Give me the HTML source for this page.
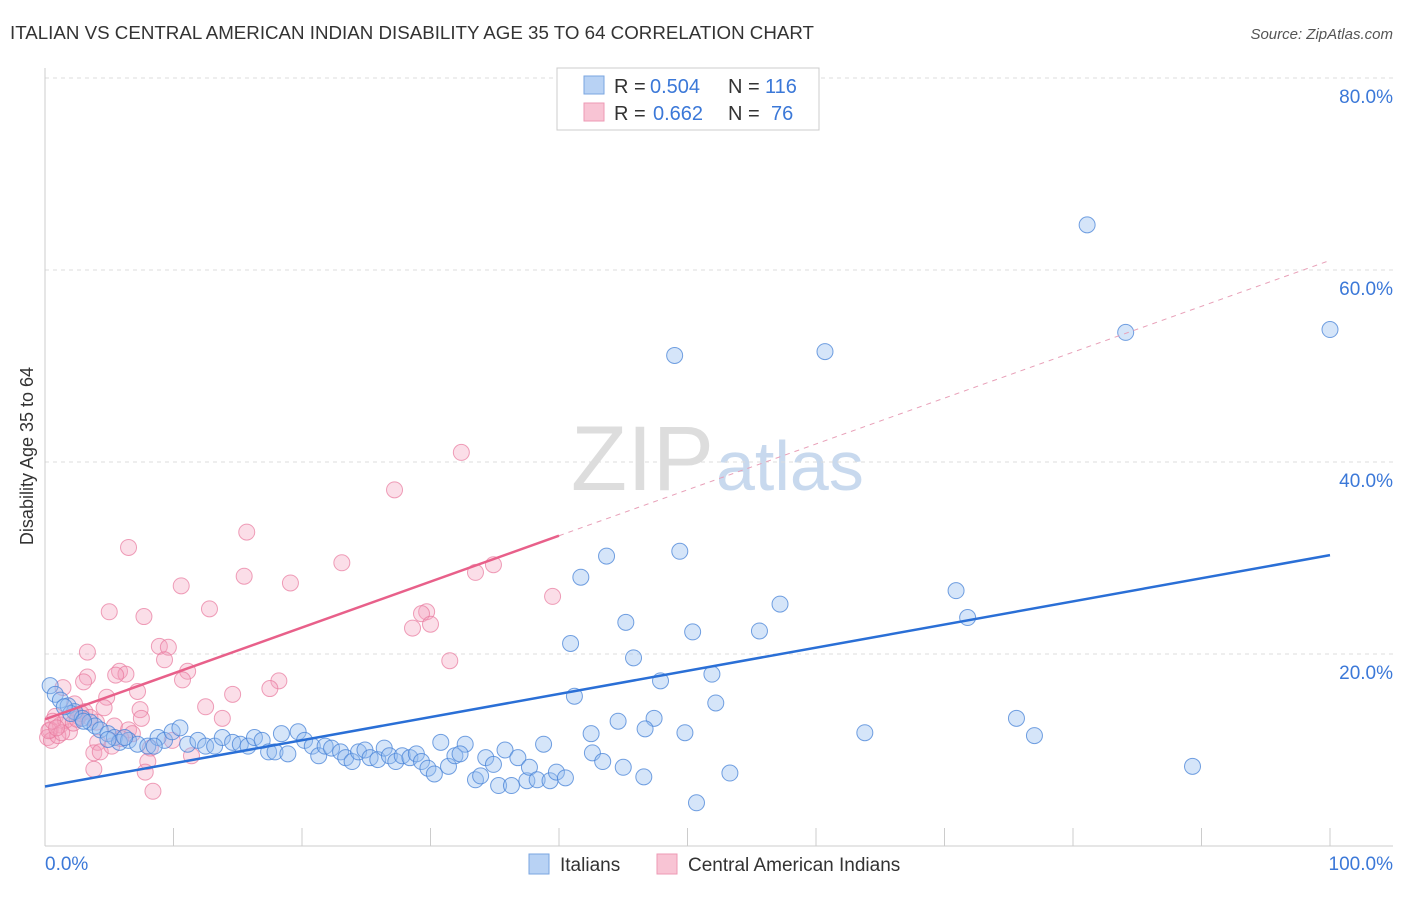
<!DOCTYPE html>
<html><head><meta charset="utf-8"><style>
body{margin:0;background:#fff;font-family:"Liberation Sans",sans-serif;}
svg text{font-family:"Liberation Sans",sans-serif;}
</style></head><body>
<svg id="c" width="1406" height="892" xmlns="http://www.w3.org/2000/svg">
<text x="10" y="39" font-size="18" fill="#333" textLength="804" lengthAdjust="spacingAndGlyphs">ITALIAN VS CENTRAL AMERICAN INDIAN DISABILITY AGE 35 TO 64 CORRELATION CHART</text>
<text x="1393" y="39" font-size="15" fill="#555" text-anchor="end" font-style="italic">Source: ZipAtlas.com</text>
<text x="714" y="490" font-size="92" fill="#ddd" text-anchor="end" font-family="Liberation Serif">ZIP</text>
<text x="716" y="490" font-size="70" fill="#c8d9ee">atlas</text>
<text x="33" y="456" font-size="18" fill="#333" text-anchor="middle" transform="rotate(-90 33 456)">Disability Age 35 to 64</text>
<g id="grid"></g><g id="pts"></g><g id="lines"></g>
<g>
<rect x="557" y="68" width="262" height="62" fill="#fff" stroke="#ccc"/>
<rect x="584" y="76" width="20" height="18" fill="#b8d2f4" stroke="#7aa6e0"/>
<rect x="584" y="103" width="20" height="18" fill="#f8c4d4" stroke="#ee9ab4"/>
<text x="614" y="93" font-size="20" fill="#333">R =</text>
<text x="650" y="93" font-size="20" fill="#3b78d8">0.504</text>
<text x="728" y="93" font-size="20" fill="#333">N =</text>
<text x="765" y="93" font-size="20" fill="#3b78d8">116</text>
<text x="614" y="120" font-size="20" fill="#333">R =</text>
<text x="653" y="120" font-size="20" fill="#3b78d8">0.662</text>
<text x="728" y="120" font-size="20" fill="#333">N =</text>
<text x="771" y="120" font-size="20" fill="#3b78d8">76</text>
</g>
<g>
<rect x="529" y="854" width="20" height="20" fill="#b8d2f4" stroke="#7aa6e0"/>
<text x="560" y="871" font-size="19" fill="#333">Italians</text>
<rect x="657" y="854" width="20" height="20" fill="#f8c4d4" stroke="#ee9ab4"/>
<text x="688" y="871" font-size="19" fill="#333">Central American Indians</text>
</g>
</svg>
<script>
const yTicks=[20,40,60,80];
const xLabels=["0.0%","100.0%"];
const blueX=[81.1,84.1,100,49.0,60.7,43.7,49.4,41.7,70.9,57.2,71.8,45.2,50.4,55.6,40.9,45.8,51.9,47.9,41.2,52.2,75.6,47.4,44.6,46.7,49.8,63.8,77.0,42.5,38.8,30.8,32.7,42.6,43.4,45.0,46.6,53.3,89.3,50.7,0.4,0.8,1.2,1.8,2.3,2.9,3.5,3.9,4.3,4.9,5.4,5.8,6.5,7.2,8.0,8.8,9.3,9.9,10.5,11.1,11.9,12.5,13.2,13.8,14.6,15.2,15.8,16.3,16.9,17.4,17.9,18.4,18.9,19.7,20.2,20.8,21.3,21.8,22.3,23.0,23.4,23.9,24.4,24.9,25.3,25.9,26.4,26.8,27.3,27.8,28.4,28.9,29.3,29.8,30.3,31.4,31.9,32.3,33.5,33.9,34.3,34.9,35.3,35.8,36.3,36.8,37.5,37.7,38.3,39.3,39.8,40.5,8.5,4.9,6.2,2.0,3.0,1.5];
const blueY=[64.7,53.5,53.8,51.1,51.5,30.2,30.7,28.0,26.6,25.2,23.8,23.3,22.3,22.4,21.1,19.6,17.9,17.2,15.6,14.9,13.3,13.3,13.0,12.2,11.8,11.8,11.5,11.7,10.6,10.8,10.6,9.7,8.8,8.2,7.2,7.6,8.3,4.5,16.7,15.8,15.2,14.6,14.0,13.3,12.9,12.5,12.1,11.7,11.3,10.8,11.0,10.6,10.4,11.3,11.0,11.9,12.3,10.6,11.0,10.4,10.4,11.3,10.8,10.6,10.4,11.3,11.0,9.8,9.8,11.7,9.6,11.9,11.0,10.4,9.4,10.4,10.2,9.8,9.2,8.8,9.8,10.0,9.2,9.0,10.2,9.4,8.8,9.4,9.2,9.6,8.8,8.1,7.5,8.3,9.4,9.6,6.9,7.3,9.2,8.5,6.3,10.0,6.3,9.2,6.8,8.2,6.9,6.8,7.7,7.1,10.4,11.1,11.3,13.8,13.0,14.5];
const pinkX=[32.4,27.2,15.7,6.5,23.1,34.9,33.5,15.5,10.6,19.1,39.5,5.0,7.7,12.8,29.7,29.3,28.6,30.0,3.3,8.9,9.6,9.3,5.8,6.3,5.5,3.3,11.1,10.7,31.5,3.0,18.2,17.5,7.2,14.6,4.8,1.4,12.5,7.4,4.6,2.3,13.8,7.5,0.8,1.2,0.4,0.2,1.9,2.6,5.4,6.5,4.1,3.8,4.3,5.2,6.8,8.2,9.9,11.4,8.0,7.8,3.8,8.4,1.6,3.1,0.5,1.0,2.2,0.3,0.6,2.8,4.0,3.5,1.3,0.9,2.5,5.9];
const pinkY=[41.0,37.1,32.7,31.1,29.5,29.3,28.5,28.1,27.1,27.4,26.0,24.4,23.9,24.7,24.4,24.2,22.7,23.1,20.2,20.8,20.7,19.4,18.2,17.9,17.8,17.6,18.2,17.3,19.3,17.1,17.2,16.4,16.1,15.8,15.5,16.5,14.5,14.2,14.4,14.8,13.3,13.3,13.5,12.6,12.1,11.3,11.9,13.5,12.5,12.1,10.8,9.7,9.8,10.4,11.7,10.2,11.0,9.4,8.8,7.7,8.0,5.7,13.1,14.0,11.0,11.5,12.8,12.0,13.0,13.8,12.9,13.4,11.8,12.3,13.2,11.2];
const blueTrend=[6.2,30.3];
const pinkTrend=[13.2,61.0];
const NS="http://www.w3.org/2000/svg";
const X=v=>45+v*12.85, Y=v=>846-v*9.6;
function mk(t,a,p){const e=document.createElementNS(NS,t);for(const k in a)e.setAttribute(k,a[k]);p.appendChild(e);return e;}
const g=document.getElementById('grid');
yTicks.forEach(t=>{
 const l=mk('line',{x1:45,x2:1393,y1:Y(t),y2:Y(t),stroke:'#ddd','stroke-dasharray':'4,4'},g);
 
 
 const tx=mk('text',{x:1393,y:Y(t)+25,'font-size':19,fill:'#3b78d8','text-anchor':'end'},g);tx.textContent=t.toFixed(1)+'%';
 
 
});
mk('line',{x1:45,x2:1393,y1:846,y2:846,stroke:'#ccc'},g);
mk('line',{x1:45,x2:45,y1:68,y2:846,stroke:'#ccc'},g);
for(let i=0;i<=10;i++){const t=mk('line',{x1:X(i*10),x2:X(i*10),y1:828,y2:846,stroke:'#ccc'},g);
 
 }
[[45,'start',0],[1393,'end',1]].forEach(([x,a,i])=>{const t=mk('text',{x:x,y:870,'font-size':19,fill:'#3b78d8','text-anchor':a},g);t.textContent=xLabels[i];
 
 });
const p=document.getElementById('pts');
pinkX.forEach((x,i)=>{const c=mk('circle',{cx:X(x),cy:Y(pinkY[i]),r:8,fill:'rgba(244,160,188,0.35)',stroke:'rgba(232,120,156,0.7)','stroke-width':1},p);
 
 });
blueX.forEach((x,i)=>{const c=mk('circle',{cx:X(x),cy:Y(blueY[i]),r:8,fill:'rgba(150,190,240,0.4)',stroke:'rgba(70,130,215,0.75)','stroke-width':1},p);
 
 });
const L=document.getElementById('lines');
const pe=x=>pinkTrend[0]+(pinkTrend[1]-pinkTrend[0])*x/100;
let l1=mk('line',{x1:X(40),y1:Y(pe(40)),x2:X(100),y2:Y(pe(100)),stroke:'#e8a0b8','stroke-dasharray':'5,5','stroke-width':1},L);


let l2=mk('line',{x1:X(0),y1:Y(pe(0)),x2:X(40),y2:Y(pe(40)),stroke:'#e8608a','stroke-width':2.5},L);


let l3=mk('line',{x1:X(0),y1:Y(blueTrend[0]),x2:X(100),y2:Y(blueTrend[1]),stroke:'#2a6fd6','stroke-width':2.5},L);


</script>
</body></html>
